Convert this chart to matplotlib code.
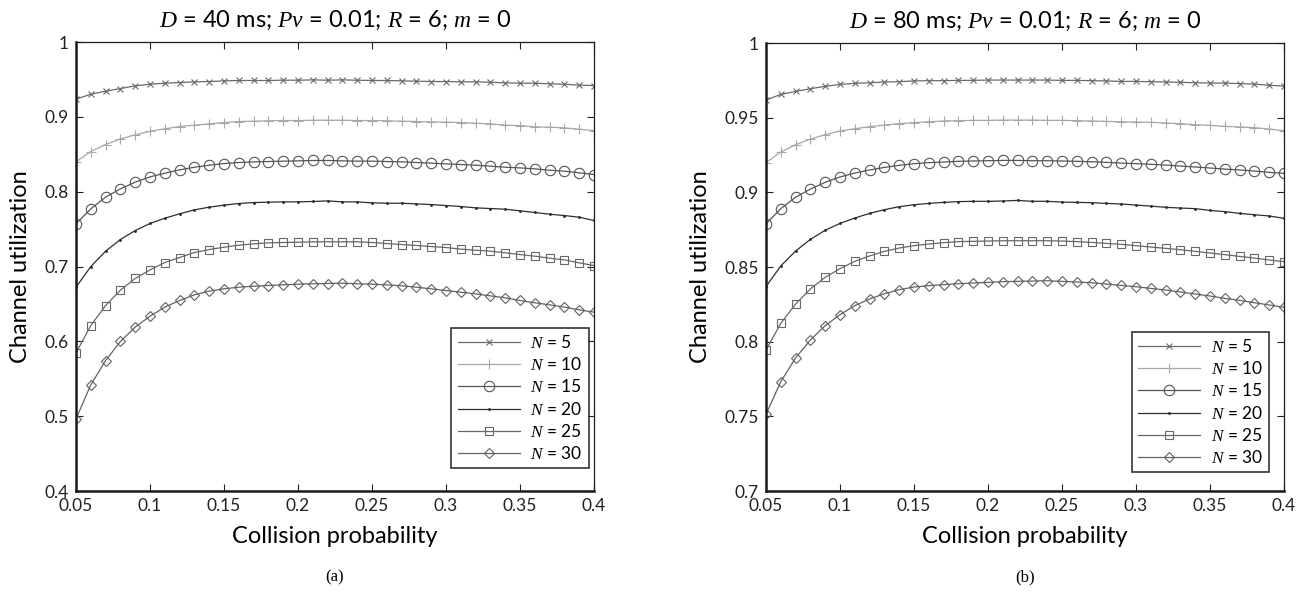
import matplotlib
matplotlib.use("Agg")
import matplotlib.pyplot as plt

plt.rcParams["font.family"] = "Lato"
plt.rcParams["mathtext.fontset"] = "custom"
plt.rcParams["mathtext.it"] = "Liberation Serif:italic"
plt.rcParams["mathtext.rm"] = "Lato"

# collision probability, 0.05 .. 0.40 in steps of 0.01
collision_prob = [0.05, 0.06, 0.07, 0.08, 0.09, 0.10, 0.11, 0.12, 0.13, 0.14, 0.15, 0.16,
                  0.17, 0.18, 0.19, 0.20, 0.21, 0.22, 0.23, 0.24, 0.25, 0.26, 0.27, 0.28,
                  0.29, 0.30, 0.31, 0.32, 0.33, 0.34, 0.35, 0.36, 0.37, 0.38, 0.39, 0.40]

node_counts = [5, 10, 15, 20, 25, 30]

# (a) D = 40 ms
util_40_n5 = [0.9236, 0.9303, 0.9343, 0.9379, 0.9414, 0.9437, 0.9450, 0.9459, 0.9468, 0.9472, 0.9481, 0.9486,
              0.9486, 0.9486, 0.9490, 0.9490, 0.9494, 0.9490, 0.9494, 0.9490, 0.9486, 0.9486, 0.9481, 0.9477,
              0.9472, 0.9472, 0.9468, 0.9468, 0.9463, 0.9454, 0.9450, 0.9450, 0.9441, 0.9437, 0.9423, 0.9419]
util_40_n10 = [0.8399, 0.8537, 0.8630, 0.8706, 0.8759, 0.8808, 0.8840, 0.8871, 0.8889, 0.8906, 0.8924, 0.8938,
               0.8942, 0.8947, 0.8951, 0.8951, 0.8955, 0.8955, 0.8955, 0.8951, 0.8951, 0.8947, 0.8942, 0.8938,
               0.8933, 0.8929, 0.8924, 0.8915, 0.8906, 0.8889, 0.8884, 0.8866, 0.8862, 0.8853, 0.8835, 0.8817]
util_40_n15 = [0.7570, 0.7771, 0.7927, 0.8038, 0.8127, 0.8198, 0.8247, 0.8292, 0.8327, 0.8354, 0.8376, 0.8390,
               0.8399, 0.8403, 0.8408, 0.8412, 0.8417, 0.8417, 0.8412, 0.8408, 0.8408, 0.8403, 0.8399, 0.8390,
               0.8381, 0.8372, 0.8363, 0.8354, 0.8341, 0.8327, 0.8318, 0.8305, 0.8287, 0.8274, 0.8252, 0.8229]
util_40_n20 = [0.6724, 0.7000, 0.7205, 0.7361, 0.7481, 0.7575, 0.7646, 0.7704, 0.7757, 0.7793, 0.7820, 0.7842,
               0.7855, 0.7860, 0.7864, 0.7864, 0.7869, 0.7877, 0.7864, 0.7864, 0.7851, 0.7846, 0.7846, 0.7837,
               0.7828, 0.7815, 0.7802, 0.7784, 0.7775, 0.7766, 0.7744, 0.7722, 0.7699, 0.7681, 0.7659, 0.7615]
util_40_n25 = [0.5846, 0.6211, 0.6479, 0.6684, 0.6840, 0.6955, 0.7053, 0.7120, 0.7187, 0.7227, 0.7258, 0.7285,
               0.7303, 0.7316, 0.7321, 0.7325, 0.7330, 0.7330, 0.7330, 0.7330, 0.7321, 0.7307, 0.7294, 0.7281,
               0.7267, 0.7254, 0.7232, 0.7218, 0.7205, 0.7183, 0.7160, 0.7138, 0.7111, 0.7089, 0.7049, 0.7013]
util_40_n30 = [0.4964, 0.5419, 0.5744, 0.5998, 0.6190, 0.6336, 0.6457, 0.6546, 0.6622, 0.6671, 0.6702, 0.6724,
               0.6737, 0.6746, 0.6755, 0.6764, 0.6769, 0.6773, 0.6778, 0.6769, 0.6764, 0.6755, 0.6742, 0.6724,
               0.6702, 0.6679, 0.6657, 0.6635, 0.6608, 0.6582, 0.6546, 0.6515, 0.6488, 0.6457, 0.6421, 0.6390]

# (b) D = 80 ms
util_80_n5 = [0.9618, 0.9656, 0.9676, 0.9694, 0.9710, 0.9723, 0.9730, 0.9734, 0.9739, 0.9741, 0.9746, 0.9748,
              0.9748, 0.9750, 0.9750, 0.9752, 0.9752, 0.9752, 0.9752, 0.9752, 0.9750, 0.9750, 0.9748, 0.9746,
              0.9743, 0.9743, 0.9741, 0.9739, 0.9737, 0.9734, 0.9732, 0.9732, 0.9728, 0.9725, 0.9717, 0.9712]
util_80_n10 = [0.9199, 0.9270, 0.9319, 0.9357, 0.9386, 0.9411, 0.9426, 0.9440, 0.9451, 0.9460, 0.9467, 0.9473,
               0.9478, 0.9480, 0.9482, 0.9482, 0.9484, 0.9484, 0.9484, 0.9482, 0.9482, 0.9480, 0.9478, 0.9475,
               0.9473, 0.9471, 0.9469, 0.9464, 0.9460, 0.9453, 0.9449, 0.9442, 0.9438, 0.9433, 0.9424, 0.9413]
util_80_n15 = [0.8788, 0.8891, 0.8967, 0.9022, 0.9067, 0.9103, 0.9129, 0.9150, 0.9167, 0.9181, 0.9192, 0.9199,
               0.9203, 0.9208, 0.9210, 0.9212, 0.9214, 0.9214, 0.9212, 0.9212, 0.9210, 0.9208, 0.9205, 0.9201,
               0.9196, 0.9192, 0.9188, 0.9183, 0.9176, 0.9170, 0.9163, 0.9156, 0.9150, 0.9143, 0.9134, 0.9127]
util_80_n20 = [0.8368, 0.8507, 0.8607, 0.8685, 0.8746, 0.8792, 0.8828, 0.8859, 0.8884, 0.8904, 0.8917, 0.8926,
               0.8933, 0.8938, 0.8940, 0.8940, 0.8942, 0.8946, 0.8940, 0.8940, 0.8935, 0.8933, 0.8931, 0.8926,
               0.8922, 0.8915, 0.8908, 0.8900, 0.8895, 0.8891, 0.8879, 0.8871, 0.8859, 0.8850, 0.8842, 0.8826]
util_80_n25 = [0.7944, 0.8123, 0.8252, 0.8353, 0.8431, 0.8489, 0.8538, 0.8574, 0.8605, 0.8627, 0.8643, 0.8654,
               0.8663, 0.8670, 0.8672, 0.8674, 0.8676, 0.8676, 0.8676, 0.8676, 0.8674, 0.8670, 0.8665, 0.8658,
               0.8652, 0.8643, 0.8634, 0.8625, 0.8616, 0.8605, 0.8594, 0.8583, 0.8571, 0.8560, 0.8547, 0.8536]
util_80_n30 = [0.7513, 0.7732, 0.7891, 0.8011, 0.8107, 0.8181, 0.8241, 0.8286, 0.8321, 0.8348, 0.8366, 0.8375,
               0.8382, 0.8388, 0.8393, 0.8397, 0.8402, 0.8404, 0.8406, 0.8408, 0.8404, 0.8400, 0.8395, 0.8386,
               0.8377, 0.8368, 0.8357, 0.8346, 0.8333, 0.8319, 0.8306, 0.8290, 0.8277, 0.8261, 0.8246, 0.8230]

series_40 = [util_40_n5, util_40_n10, util_40_n15, util_40_n20, util_40_n25, util_40_n30]
series_80 = [util_80_n5, util_80_n10, util_80_n15, util_80_n20, util_80_n25, util_80_n30]

# marker, colour, marker size per N
styles = [
    ("x", "#6a6a6a", 4.8),
    ("+", "#a8a8a8", 6.5),
    ("o", "#555555", 7.5),
    (".", "#2e2e2e", 2.5),
    ("s", "#686868", 5.2),
    ("D", "#626262", 5.6),
]


def draw_panel(ax, series, title, ylim, yticks, ytick_labels, legend_anchor):
    for vals, n, (mk, col, ms) in zip(series, node_counts, styles):
        ax.plot(collision_prob, vals, marker=mk, color=col, markersize=ms,
                markerfacecolor="none" if mk in ("o", "s", "D") else col,
                markeredgecolor=col, markeredgewidth=0.8, linewidth=0.9,
                label=rf"$N$ = {n}")
    ax.set_xlim(0.05, 0.4)
    ax.set_ylim(*ylim)
    ax.set_xticks([0.05, 0.1, 0.15, 0.2, 0.25, 0.3, 0.35, 0.4])
    ax.set_xticklabels(["0.05", "0.1", "0.15", "0.2", "0.25", "0.3", "0.35", "0.4"])
    ax.set_yticks(yticks)
    ax.set_yticklabels(ytick_labels)
    ax.tick_params(direction="in", top=True, right=True, length=5, width=0.8,
                   labelsize=12.5, colors="#222222")
    ax.tick_params(axis="x", pad=5)
    ax.tick_params(axis="y", pad=5)
    for side in ("left", "bottom"):
        ax.spines[side].set_linewidth(1.8)
    for side in ("top", "right"):
        ax.spines[side].set_linewidth(0.9)
    for sp in ax.spines.values():
        sp.set_color("#1a1a1a")
    ax.set_title(title, fontsize=17, pad=11)
    ax.set_xlabel("Collision probability", fontsize=17, labelpad=9)
    ax.set_ylabel("Channel utilization", fontsize=17, labelpad=10)
    leg = ax.legend(loc="lower right", bbox_to_anchor=legend_anchor, fontsize=12.5,
                    frameon=True, fancybox=False, edgecolor="black",
                    handlelength=3.6, handletextpad=0.6, labelspacing=0.3,
                    borderpad=0.35, borderaxespad=0)
    leg.get_frame().set_linewidth(1.2)


fig = plt.figure(figsize=(13.06, 5.92), dpi=100)
ax_a = fig.add_axes([0.0582, 0.1706, 0.3966, 0.7584])
ax_b = fig.add_axes([0.5865, 0.1706, 0.3966, 0.7567])

draw_panel(ax_a, series_40, r"$D$ = 40 ms; $Pv$ = 0.01; $R$ = 6; $m$ = 0",
           (0.4, 1.0), [0.4, 0.5, 0.6, 0.7, 0.8, 0.9, 1.0],
           ["0.4", "0.5", "0.6", "0.7", "0.8", "0.9", "1"], (0.99, 0.051))
draw_panel(ax_b, series_80, r"$D$ = 80 ms; $Pv$ = 0.01; $R$ = 6; $m$ = 0",
           (0.7, 1.0), [0.7, 0.75, 0.8, 0.85, 0.9, 0.95, 1.0],
           ["0.7", "0.75", "0.8", "0.85", "0.9", "0.95", "1"], (0.971, 0.042))

fig.text(0.0582 + 0.3966 / 2, 0.025, "(a)", ha="center", va="center",
         fontsize=12, family="Liberation Serif")
fig.text(0.5865 + 0.3966 / 2, 0.025, "(b)", ha="center", va="center",
         fontsize=12, family="Liberation Serif")

fig.savefig("out.png", dpi=100)
plt.close(fig)
